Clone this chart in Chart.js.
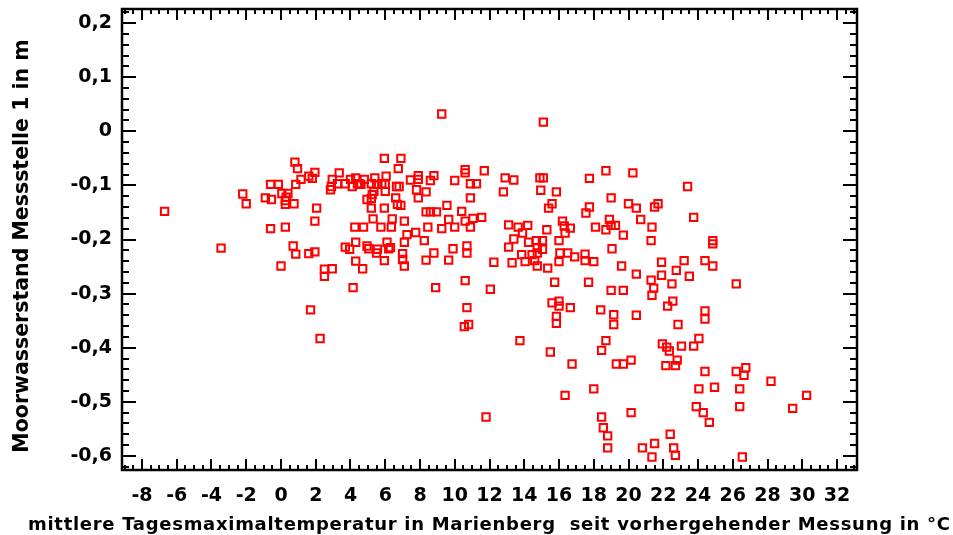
<!DOCTYPE html>
<html>
<head>
<meta charset="utf-8">
<script src="https://cdn.jsdelivr.net/npm/chart.js@4"></script>
<style>
  html, body { margin: 0; padding: 0; background: #fff; }
  canvas { display: block; }
</style>
</head>
<body>
<canvas id="chart" width="953" height="535"></canvas>
<script>
// mittlere Tagesmaximaltemperatur (°C)
const tempC = [
  -6.7, -3.45, -2.2, -2.0, -0.9, -0.55, -0.6, -0.6, -0.15, 0.05,
  0.4, 0.25, 0.25, 0.3, 0.25, 0.0, 0.75, 0.8, 0.95, 0.85,
  1.15, 0.7, 0.85, 1.6, 1.95, 1.95, 2.05, 1.6, 1.8, 1.95,
  2.5, 2.5, 2.95, 1.7, 2.25, 2.85, 2.9, 2.95, 3.35, 3.25,
  3.7, 4.0, 4.1, 4.3, 4.4, 4.8, 4.6, 4.95, 5.2, 5.25,
  5.2, 5.3, 4.25, 4.75, 4.3, 3.7, 3.95, 4.3, 4.7, 4.95,
  5.05, 5.55, 5.5, 6.1, 6.2, 5.95, 5.75, 6.35, 6.4, 5.95,
  6.0, 6.0, 6.05, 5.95, 5.2, 5.5, 5.4, 5.8, 6.65, 6.6,
  6.7, 6.75, 6.9, 4.15, 4.5, 5.35, 6.8, 6.9, 7.1, 7.25,
  7.1, 6.3, 7.0, 7.0, 7.1, 7.45, 7.9, 7.9, 8.6, 8.8,
  10.0, 10.6, 10.6, 11.7, 10.9, 11.25, 10.9, 7.8, 7.9, 8.35,
  9.55, 8.35, 8.6, 8.95, 10.4, 9.65, 10.6, 11.05, 11.55, 7.75,
  8.45, 9.25, 10.0, 10.9, 8.25, 8.35, 8.8, 9.65, 9.9, 10.7,
  10.7, 10.6, 8.9, 9.25, 10.7, 10.8, 10.55, 12.05, 11.8, 12.25,
  12.9, 12.8, 13.4, 14.9, 15.1, 14.95, 15.85, 15.1, 15.6, 15.4,
  13.1, 13.65, 14.2, 13.9, 13.4, 13.1, 14.25, 14.7, 15.05, 15.05,
  14.75, 14.75, 14.45, 14.6, 14.75, 14.05, 13.85, 13.3, 15.3, 15.35,
  13.75, 15.5, 15.75, 15.6, 16.0, 16.0, 16.65, 15.85, 15.85, 16.75,
  16.35, 16.0, 16.2, 16.3, 16.65, 16.35, 16.0, 16.05, 16.5, 16.9,
  17.5, 17.5, 18.0, 18.1, 18.7, 18.9, 19.0, 19.25, 19.7, 21.3,
  21.35, 19.05, 19.6, 20.45, 21.3, 17.7, 18.7, 20.25, 17.75, 19.0,
  17.75, 17.55, 20.0, 20.45, 21.5, 21.7, 20.7, 21.9, 21.9, 22.5,
  22.75, 21.45, 21.35, 19.0, 19.7, 18.4, 22.25, 22.55, 19.15, 19.15,
  20.45, 22.85, 24.4, 24.4, 24.05, 18.7, 18.45, 20.15, 19.7, 19.3,
  21.95, 22.2, 22.35, 23.05, 23.75, 22.8, 22.15, 22.7, 24.4, 26.2,
  26.75, 26.65, 28.2, 24.05, 24.95, 26.4, 30.25, 29.45, 26.4, 23.9,
  24.3, 24.65, 20.15, 18.45, 18.55, 18.8, 18.8, 20.8, 21.5, 21.35,
  22.4, 22.6, 22.7, 26.55, 18.0, 23.4, 23.75, 24.85, 24.85, 23.2,
  24.4, 24.85, 23.5, 26.2
];

// Moorwasserstand Messstelle 1 (m)
const levelM = [
  -0.148, -0.216, -0.116, -0.134, -0.123, -0.126, -0.180, -0.098, -0.098, -0.115,
  -0.115, -0.128, -0.135, -0.122, -0.177, -0.249, -0.134, -0.057, -0.069, -0.098,
  -0.089, -0.212, -0.227, -0.226, -0.223, -0.166, -0.142, -0.083, -0.087, -0.076,
  -0.255, -0.268, -0.254, -0.330, -0.383, -0.108, -0.102, -0.089, -0.077, -0.097,
  -0.097, -0.089, -0.102, -0.086, -0.097, -0.089, -0.098, -0.126, -0.124, -0.117,
  -0.142, -0.162, -0.177, -0.177, -0.205, -0.214, -0.218, -0.240, -0.254, -0.212,
  -0.217, -0.218, -0.225, -0.205, -0.217, -0.239, -0.177, -0.177, -0.162, -0.142,
  -0.111, -0.098, -0.083, -0.050, -0.097, -0.098, -0.086, -0.097, -0.102, -0.123,
  -0.135, -0.069, -0.050, -0.289, -0.097, -0.111, -0.102, -0.137, -0.166, -0.191,
  -0.205, -0.215, -0.226, -0.237, -0.249, -0.090, -0.082, -0.089, -0.091, -0.082,
  -0.091, -0.071, -0.077, -0.073, -0.097, -0.097, -0.123, -0.108, -0.123, -0.112,
  -0.137, -0.149, -0.149, -0.149, -0.148, -0.163, -0.166, -0.161, -0.159, -0.187,
  -0.177, -0.180, -0.177, -0.177, -0.202, -0.238, -0.225, -0.238, -0.217, -0.212,
  -0.225, -0.276, -0.289, 0.032, -0.326, -0.357, -0.361, -0.292, -0.528, -0.242,
  -0.086, -0.112, -0.090, -0.086, -0.086, -0.109, -0.112, 0.017, -0.134, -0.142,
  -0.173, -0.177, -0.174, -0.188, -0.199, -0.214, -0.205, -0.202, -0.202, -0.218,
  -0.215, -0.225, -0.228, -0.239, -0.249, -0.241, -0.228, -0.243, -0.182, -0.253,
  -0.387, -0.408, -0.279, -0.317, -0.314, -0.323, -0.326, -0.342, -0.355, -0.430,
  -0.488, -0.202, -0.166, -0.175, -0.179, -0.188, -0.241, -0.225, -0.225, -0.232,
  -0.227, -0.239, -0.241, -0.177, -0.182, -0.163, -0.174, -0.174, -0.192, -0.202,
  -0.177, -0.217, -0.249, -0.264, -0.275, -0.279, -0.073, -0.077, -0.087, -0.123,
  -0.140, -0.151, -0.134, -0.142, -0.140, -0.134, -0.163, -0.242, -0.266, -0.282,
  -0.257, -0.290, -0.303, -0.294, -0.294, -0.330, -0.323, -0.314, -0.339, -0.357,
  -0.340, -0.357, -0.332, -0.347, -0.383, -0.387, -0.405, -0.423, -0.430, -0.430,
  -0.393, -0.399, -0.406, -0.397, -0.397, -0.423, -0.433, -0.433, -0.444, -0.444,
  -0.437, -0.451, -0.462, -0.476, -0.473, -0.476, -0.488, -0.512, -0.509, -0.509,
  -0.520, -0.538, -0.520, -0.528, -0.548, -0.563, -0.585, -0.585, -0.577, -0.602,
  -0.560, -0.585, -0.599, -0.602, -0.476, -0.102, -0.159, -0.202, -0.208, -0.239,
  -0.239, -0.249, -0.268, -0.282
];

const xTicks = [-8, -6, -4, -2, 0, 2, 4, 6, 8, 10, 12, 14, 16, 18, 20, 22, 24, 26, 28, 30, 32];
const yTicks = [-0.6, -0.5, -0.4, -0.3, -0.2, -0.1, 0, 0.1, 0.2];

const xTitle = "mittlere Tagesmaximaltemperatur in Marienberg  seit vorhergehender Messung in °C";
const yTitle = "Moorwasserstand Messstelle 1 in m";

const points = tempC.map((t, i) => ({ x: t, y: levelM[i] }));

const font = { family: "'DejaVu Sans', sans-serif", weight: "bold", size: 19 };

function noEdgePadding(s) {
  s.paddingTop = 0; s.paddingBottom = 0; s.paddingLeft = 0; s.paddingRight = 0;
}

// rahmen mit nach innen zeigenden strichen auf allen vier seiten
const frameTicks = {
  id: "frameTicks",
  afterDraw(chart) {
    const { ctx, chartArea: a, scales: { x, y } } = chart;
    ctx.save();
    ctx.strokeStyle = "#000";
    ctx.lineWidth = 2;
    ctx.beginPath();
    for (let k = -18; k <= 66; k++) {
      const v = k / 2;
      const px = Math.round(x.getPixelForValue(v));
      const len = k % 4 === 0 ? 11 : 5;
      ctx.moveTo(px, a.bottom); ctx.lineTo(px, a.bottom - len);
      ctx.moveTo(px, a.top); ctx.lineTo(px, a.top + len);
    }
    for (let k = -31; k <= 11; k++) {
      const v = k * 0.02;
      const py = Math.round(y.getPixelForValue(v));
      const len = k % 5 === 0 ? 14 : 7;
      ctx.moveTo(a.left, py); ctx.lineTo(a.left + len, py);
      ctx.moveTo(a.right, py); ctx.lineTo(a.right - len, py);
    }
    ctx.stroke();
    ctx.lineWidth = 2.5;
    ctx.strokeRect(a.left, a.top, a.right - a.left, a.bottom - a.top);

    // achsentitel selbst gesetzt (x-titel ist breiter als die zeichenflaeche)
    ctx.fillStyle = "#000";
    ctx.font = "bold 18px 'DejaVu Sans', sans-serif";
    ctx.textAlign = "left";
    ctx.textBaseline = "alphabetic";
    const target = 922;
    const w = ctx.measureText(xTitle).width;
    ctx.letterSpacing = ((target - w) / (xTitle.length - 1)) + "px";
    ctx.fillText(xTitle, 28, 530);

    ctx.letterSpacing = "0px";
    ctx.font = "bold 20.5px 'DejaVu Sans', sans-serif";
    ctx.textAlign = "center";
    ctx.textBaseline = "middle";
    ctx.translate(23, 246);
    ctx.rotate(-Math.PI / 2);
    ctx.fillText(yTitle, 0, 0);
    ctx.restore();
  }
};

new Chart(document.getElementById("chart"), {
  type: "scatter",
  data: {
    datasets: [{
      data: points,
      pointStyle: "rect",
      pointRadius: 5.2,
      pointBorderWidth: 2,
      borderColor: "#ff0000",
      backgroundColor: "rgba(0,0,0,0)"
    }]
  },
  options: {
    responsive: false,
    animation: false,
    layout: { padding: { top: 9, right: 96, left: 0, bottom: 0 } },
    plugins: { legend: { display: false }, tooltip: { enabled: false } },
    scales: {
      x: {
        type: "linear",
        min: -9.15,
        max: 33.15,
        grid: { display: false, drawTicks: false },
        border: { display: false },
        afterBuildTicks: s => { s.ticks = xTicks.map(v => ({ value: v })); },
        afterFit: s => { s.height = 65; noEdgePadding(s); },
        ticks: { font, color: "#000", padding: 15, maxRotation: 0, autoSkip: false, callback: v => String(v) }
      },
      y: {
        type: "linear",
        min: -0.626,
        max: 0.226,
        grid: { display: false, drawTicks: false },
        border: { display: false },
        afterBuildTicks: s => { s.ticks = yTicks.map(v => ({ value: v })); },
        afterFit: s => { s.width = 122; noEdgePadding(s); },
        ticks: { font, color: "#000", padding: 10, autoSkip: false,
                 callback: v => v === 0 ? "0" : v.toFixed(1).replace(".", ",") }
      }
    }
  },
  plugins: [frameTicks]
});
</script>
</body>
</html>
